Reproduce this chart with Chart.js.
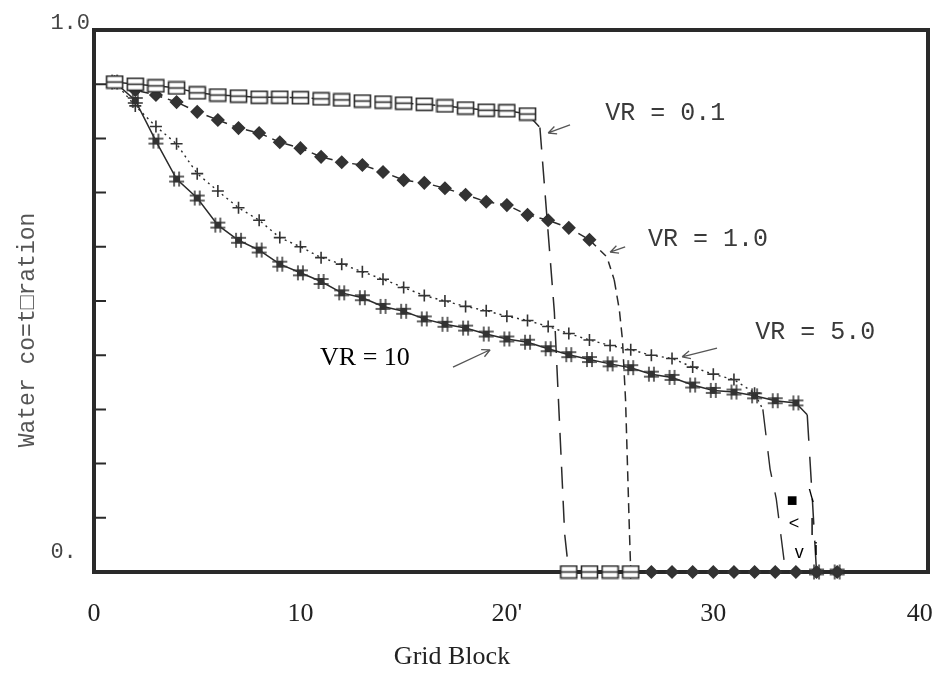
<!DOCTYPE html>
<html>
<head>
<meta charset="utf-8">
<script src="https://cdn.jsdelivr.net/npm/chart.js@4.4.0/dist/chart.umd.min.js"></script>
<style>
    html, body { margin: 0; padding: 0; background: #fff; }
    #wrap { width: 946px; height: 674px; }
</style>
</head>
<body>
<div id="wrap"><canvas id="satChart" width="946" height="674"></canvas></div>
<script>
// Values (grid block vs. water saturation)
const blocksVR01 = [1, 2, 3, 4, 5, 6, 7, 8, 9, 10, 11, 12, 13, 14, 15, 16, 17, 18, 19, 20, 21, 21.6, 22.3, 22.8, 23, 24, 25, 26];
const satVR01 = [0.904, 0.900, 0.897, 0.893, 0.884, 0.880, 0.878, 0.876, 0.876, 0.875, 0.873, 0.871, 0.869, 0.867, 0.865, 0.863, 0.860, 0.856, 0.852, 0.851, 0.845, 0.820, 0.480, 0.070, 0, 0, 0, 0];

const blocksVR1 = [1, 2, 3, 4, 5, 6, 7, 8, 9, 10, 11, 12, 13, 14, 15, 16, 17, 18, 19, 20, 21, 22, 23, 24, 24.85, 25.2, 25.45, 25.6, 25.75, 25.92, 26, 27, 28, 29, 30, 31, 32, 33, 34, 35, 36];
const satVR1 = [0.904, 0.889, 0.880, 0.867, 0.849, 0.834, 0.819, 0.810, 0.793, 0.782, 0.766, 0.756, 0.751, 0.738, 0.723, 0.718, 0.708, 0.696, 0.683, 0.677, 0.659, 0.649, 0.635, 0.613, 0.581, 0.539, 0.483, 0.428, 0.317, 0.096, 0, 0, 0, 0, 0, 0, 0, 0, 0, 0, 0];

const blocksVR5 = [1, 2, 3, 4, 5, 6, 7, 8, 9, 10, 11, 12, 13, 14, 15, 16, 17, 18, 19, 20, 21, 22, 23, 24, 25, 26, 27, 28, 29, 30, 31, 32, 32.4, 32.75, 33.05, 33.5, 34, 35, 36];
const satVR5 = [0.904, 0.860, 0.822, 0.790, 0.735, 0.703, 0.672, 0.649, 0.617, 0.600, 0.580, 0.568, 0.554, 0.540, 0.525, 0.510, 0.500, 0.490, 0.482, 0.472, 0.464, 0.453, 0.440, 0.428, 0.418, 0.410, 0.400, 0.394, 0.378, 0.365, 0.355, 0.330, 0.300, 0.190, 0.135, 0, 0, 0, 0];

const blocksVR10 = [1, 2, 3, 4, 5, 6, 7, 8, 9, 10, 11, 12, 13, 14, 15, 16, 17, 18, 19, 20, 21, 22, 23, 24, 25, 26, 27, 28, 29, 30, 31, 32, 33, 34, 34.55, 34.8, 35, 36];
const satVR10 = [0.904, 0.870, 0.795, 0.725, 0.690, 0.640, 0.612, 0.594, 0.568, 0.552, 0.536, 0.515, 0.506, 0.490, 0.481, 0.467, 0.457, 0.450, 0.439, 0.430, 0.424, 0.412, 0.401, 0.392, 0.384, 0.377, 0.365, 0.359, 0.345, 0.335, 0.332, 0.325, 0.316, 0.312, 0.290, 0.133, 0, 0];

const xTickValues = [0, 10, 20, 30, 40];
const xTickLabels = ['0', '10', "20'", '30', '40'];
const yLabelValues = [0, 1];
const yLabelTexts = [['0. ', ''], '1.0'];

const ink = '#2a2a2a';

function toPoints(xs, ys) {
    return xs.map((x, i) => ({ x: x, y: ys[i] }));
}

// small canvases used as marker shapes
function makeMarker(w, h, draw) {
    const c = document.createElement('canvas');
    c.width = w;
    c.height = h;
    draw(c.getContext('2d'));
    return c;
}
const boxMark = makeMarker(19, 15, g => {
    g.fillStyle = '#fff';
    g.fillRect(1.5, 1.5, 16, 12);
    g.strokeStyle = ink;
    g.lineWidth = 1.6;
    g.strokeRect(1.5, 1.5, 16, 12);
    g.beginPath();
    g.moveTo(1.5, 7.5);
    g.lineTo(17.5, 7.5);
    g.stroke();
});
const hashMark = makeMarker(17, 17, g => {
    g.fillStyle = '#333';
    g.fillRect(5, 5, 7, 7);
    g.strokeStyle = '#333';
    g.lineWidth = 1.5;
    g.beginPath();
    [6, 11].forEach(p => {
        g.moveTo(1, p); g.lineTo(16, p);
        g.moveTo(p, 1); g.lineTo(p, 16);
    });
    g.stroke();
});

// marker only at whole grid blocks
function markAt(r) {
    return ctx => (ctx.raw && Number.isInteger(ctx.raw.x)) ? r : 0;
}
// steep drop segments get a long dash
function dropDash(pattern) {
    return ctx => {
        const dx = ctx.p1.parsed.x - ctx.p0.parsed.x;
        const dy = Math.abs(ctx.p1.parsed.y - ctx.p0.parsed.y);
        return (dy / dx > 0.15) ? pattern : undefined;
    };
}

const datasets = [
    {
        label: 'VR = 0.1',
        data: toPoints(blocksVR01, satVR01),
        borderColor: ink,
        borderWidth: 1.5,
        borderDash: [14, 8],
        pointStyle: boxMark,
        pointRadius: markAt(6),
        segment: { borderDash: dropDash([22, 12]) }
    },
    {
        label: 'VR = 1.0',
        data: toPoints(blocksVR1, satVR1),
        borderColor: ink,
        borderWidth: 1.5,
        borderDash: [8, 6],
        pointStyle: 'rectRot',
        pointRadius: markAt(6),
        pointBackgroundColor: '#333',
        pointBorderColor: '#333',
        segment: { borderDash: dropDash([10, 6]) }
    },
    {
        label: 'VR = 5.0',
        data: toPoints(blocksVR5, satVR5),
        borderColor: ink,
        borderWidth: 1.4,
        borderDash: [2, 4],
        pointStyle: 'cross',
        pointRadius: markAt(6),
        pointBorderWidth: 1.6,
        pointBorderColor: '#333',
        segment: { borderDash: dropDash([26, 16]) }
    },
    {
        label: 'VR = 10',
        data: toPoints(blocksVR10, satVR10),
        borderColor: ink,
        borderWidth: 1.5,
        pointStyle: hashMark,
        pointRadius: markAt(6),
        segment: { borderDash: dropDash([26, 16]) }
    }
];

// heavy frame plus inward ticks on the left axis
const framePlugin = {
    id: 'frame',
    beforeDatasetsDraw(chart) {
        const { ctx, chartArea: a, scales } = chart;
        ctx.save();
        ctx.strokeStyle = ink;
        ctx.lineWidth = 4;
        ctx.strokeRect(a.left, a.top, a.right - a.left, a.bottom - a.top);
        ctx.lineWidth = 2;
        ctx.beginPath();
        scales.y.ticks.forEach(t => {
            if (t.value > 0.01 && t.value < 0.99) {
                const py = scales.y.getPixelForValue(t.value);
                ctx.moveTo(a.left, py);
                ctx.lineTo(a.left + 12, py);
            }
        });
        ctx.stroke();
        ctx.restore();
    }
};

// curve labels, arrows and leftover scan text
const notePlugin = {
    id: 'notes',
    afterDraw(chart) {
        const { ctx, scales } = chart;
        const px = v => scales.x.getPixelForValue(v);
        const py = v => scales.y.getPixelForValue(v);
        ctx.save();
        ctx.textBaseline = 'middle';
        ctx.textAlign = 'left';

        ctx.fillStyle = '#3a3a3a';
        ctx.font = '25px "Liberation Mono"';
        ctx.fillText('VR = 0.1', px(24.76), py(0.847));
        ctx.fillText('VR = 1.0', px(26.84), py(0.614));
        ctx.fillText('VR = 5.0', px(32.03), py(0.443));

        ctx.fillStyle = '#000';
        ctx.font = '26px "Liberation Serif"';
        ctx.fillText('VR = 10', px(10.95), py(0.395));

        const arrows = [
            [23.06, 0.825, 22.0, 0.81],
            [25.73, 0.600, 25.0, 0.59],
            [30.18, 0.413, 28.49, 0.397],
            [17.39, 0.378, 19.19, 0.41]
        ];
        ctx.strokeStyle = '#555';
        ctx.lineWidth = 1.3;
        arrows.forEach(([x1, y1, x2, y2]) => {
            const ax = px(x1), ay = py(y1), bx = px(x2), by = py(y2);
            const ang = Math.atan2(by - ay, bx - ax);
            ctx.beginPath();
            ctx.moveTo(ax, ay);
            ctx.lineTo(bx, by);
            [0.45, -0.45].forEach(d => {
                ctx.moveTo(bx, by);
                ctx.lineTo(bx - 9 * Math.cos(ang + d), by - 9 * Math.sin(ang + d));
            });
            ctx.stroke();
        });

        ctx.fillStyle = '#000';
        ctx.font = '18px "Liberation Sans"';
        ctx.textAlign = 'center';
        ctx.fillText('\u25A0', px(33.82), py(0.131));
        ctx.fillText('\\', px(34.74), py(0.138));
        ctx.fillText('<', px(33.91), py(0.089));
        ctx.fillText('|', px(34.79), py(0.085));
        ctx.fillText('v', px(34.16), py(0.035));
        ctx.fillText('i', px(34.98), py(0.041));

        ctx.font = '26px "Liberation Serif"';
        ctx.fillStyle = '#222';
        ctx.fillText('Grid Block', 452, 657);

        ctx.translate(28, 330);
        ctx.rotate(-Math.PI / 2);
        ctx.font = '23px "Liberation Mono"';
        ctx.fillStyle = '#555';
        ctx.fillText('Water co=t\u25A1ration', 0, 0);
        ctx.restore();
    }
};

const ctx = document.getElementById('satChart').getContext('2d');
new Chart(ctx, {
    type: 'line',
    data: { datasets: datasets },
    options: {
        responsive: false,
        animation: false,
        events: [],
        layout: { padding: { top: 30, right: 18, left: 0, bottom: 0 } },
        plugins: {
            legend: { display: false },
            tooltip: { enabled: false }
        },
        datasets: { line: { clip: false, tension: 0, fill: false } },
        scales: {
            x: {
                type: 'linear',
                min: 0,
                max: 40.4,
                grid: { display: false, drawTicks: false },
                border: { display: false },
                afterBuildTicks: scale => {
                    scale.ticks = xTickValues.map(v => ({ value: v }));
                },
                afterFit: scale => {
                    scale.height = 102;
                    scale.paddingLeft = 0;
                    scale.paddingRight = 0;
                },
                ticks: {
                    padding: 27,
                    autoSkip: false,
                    maxRotation: 0,
                    color: '#222',
                    font: { family: 'Liberation Serif', size: 26 },
                    callback: (value, index) => xTickLabels[index]
                }
            },
            y: {
                type: 'linear',
                min: 0,
                max: 1,
                grid: { display: false, drawTicks: false },
                border: { display: false },
                afterFit: scale => { scale.width = 94; },
                ticks: {
                    stepSize: 0.1,
                    autoSkip: false,
                    padding: 4,
                    labelOffset: -7,
                    color: '#444',
                    font: { family: 'Liberation Mono', size: 22 },
                    callback: value => {
                        const k = yLabelValues.findIndex(v => Math.abs(v - value) < 1e-6);
                        return k >= 0 ? yLabelTexts[k] : '';
                    }
                }
            }
        }
    },
    plugins: [framePlugin, notePlugin]
});
</script>
</body>
</html>
